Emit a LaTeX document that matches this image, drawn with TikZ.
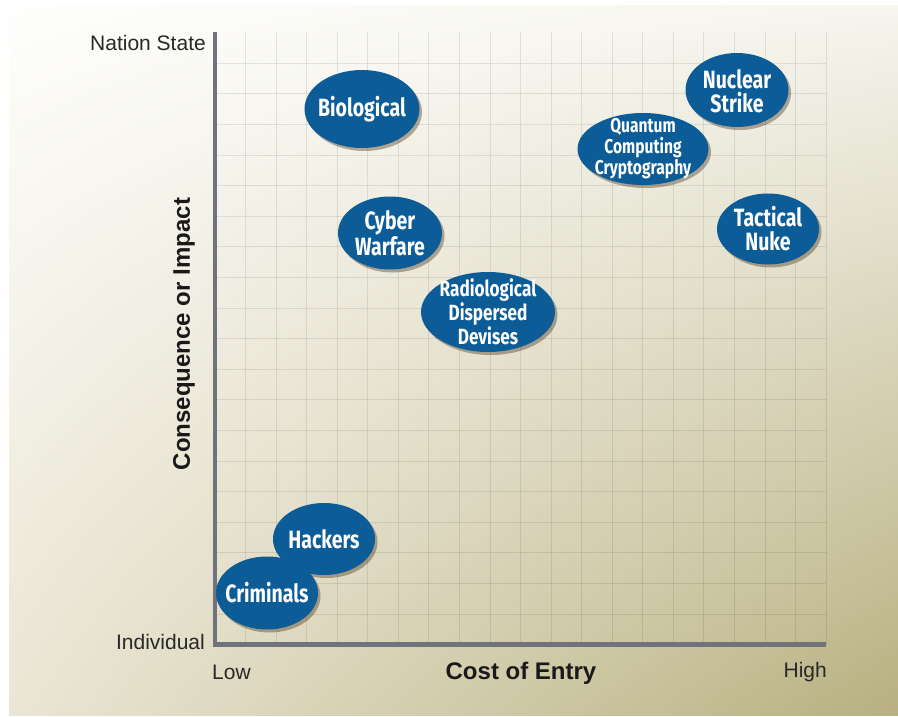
\documentclass[tikz,border=0pt]{standalone}
\usepackage{fontspec}
\setmainfont{Liberation Sans}
\newfontfamily\blobfont[FakeStretch=0.78]{Fira Sans}
\usetikzlibrary{shapes.geometric,shadows,shadings}

\definecolor{blobblue}{RGB}{12,92,152}
\definecolor{axisgrey}{RGB}{112,114,124}
\definecolor{labelgrey}{RGB}{40,40,40}
\definecolor{bgul}{RGB}{254,254,252}
\definecolor{bgur}{RGB}{246,245,238}
\definecolor{bgll}{RGB}{234,230,212}
\definecolor{bglr}{RGB}{184,176,128}

\tikzset{
    blob/.style={ellipse, fill=blobblue, inner sep=0pt,
        drop shadow={shadow xshift=2.5pt, shadow yshift=-3pt, fill=black!60!brown, opacity=0.4}},
    blobtext/.style={text=white, align=center, inner sep=0pt,
        font=\blobfont\bfseries\fontsize{25}{24}\selectfont},
    gridline/.style={draw=black, opacity=0.09, line width=0.8pt},
    axisline/.style={draw=axisgrey, line width=4.5pt},
    lbl/.style={text=labelgrey, inner sep=0pt, font=\fontsize{21}{21}\selectfont},
    axistitle/.style={text=black!90, inner sep=0pt, font=\bfseries\fontsize{24}{24}\selectfont}
}

\begin{document}
\begin{tikzpicture}[x=1pt,y=-1pt]
    \useasboundingbox (0,0) rectangle (898,717);
    \shade[upper left=bgul, upper right=bgur, lower left=bgll, lower right=bglr] (9,6) rectangle (898,715);

    % grid
    \foreach \k in {1,...,20}
        \draw[gridline] (215+30.55*\k,32) -- (215+30.55*\k,644.5);
    \foreach \k in {1,...,19}
        \draw[gridline] (215,644.5-30.6*\k) -- (826,644.5-30.6*\k);

    % axes
    \coordinate (ytop) at (215,32);
    \coordinate (xend) at (826,644.5);
    \draw[axisline] (ytop) |- (xend);

    \node[lbl, anchor=east] (natstate) at (206,43) {Nation State};
    \node[lbl, anchor=east] (indiv) at (205,642) {Individual};
    \node[lbl, anchor=west] (low) at (212,672) {Low};
    \node[lbl, anchor=east] (high) at (827,672) {High};
    \node[axistitle] (cost) at (521,673) {Cost of Entry};
    \node[axistitle, rotate=90] (impact) at (184,334) {Consequence or Impact};

    % threats
    \node[blob, minimum width=115, minimum height=78] (bio) at (362,109) {};
    \node[blobtext] at (bio) {Biological};

    \node[blob, minimum width=103, minimum height=74] (nuke) at (737,90) {};
    \node[blobtext] at ([yshift=-1pt]nuke) {Nuclear\\Strike};

    \node[blob, minimum width=131, minimum height=72] (qcc) at (643,149) {};
    \node[blobtext, font=\blobfont\bfseries\fontsize{20}{21}\selectfont] at (qcc) {Quantum\\Computing\\Cryptography};

    \node[blob, minimum width=102, minimum height=71] (tact) at (768,229) {};
    \node[blobtext] at (tact) {Tactical\\Nuke};

    \node[blob, minimum width=104, minimum height=73] (cyber) at (390,233) {};
    \node[blobtext] at (cyber) {Cyber\\Warfare};

    \node[blob, minimum width=134, minimum height=80] (radio) at (488,312) {};
    \node[blobtext, font=\blobfont\bfseries\fontsize{22}{24}\selectfont] at (radio) {Radiological\\Dispersed\\Devises};

    \node[blob, minimum width=102, minimum height=72] (hack) at (324,539) {};
    \node[blobtext] at (hack) {Hackers};

    \node[blob, minimum width=102, minimum height=73] (crim) at (267,593) {};
    \node[blobtext] at (crim) {Criminals};
\end{tikzpicture}
\end{document}
